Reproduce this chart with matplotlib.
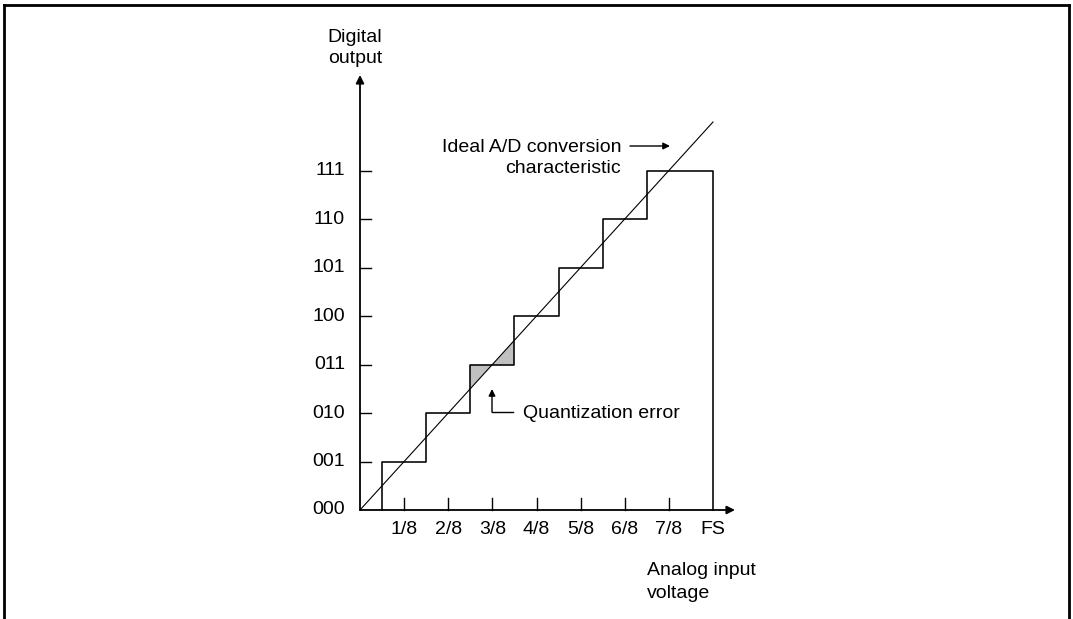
import matplotlib
matplotlib.use("Agg")
import matplotlib.pyplot as plt
from matplotlib.patches import Polygon

plt.rcParams['font.family'] = ['Liberation Sans', 'DejaVu Sans']

# ---- data ----
codes = ['000', '001', '010', '011', '100', '101', '110', '111']
code_levels = [0, 1, 2, 3, 4, 5, 6, 7]
x_tick_labels = ['1/8', '2/8', '3/8', '4/8', '5/8', '6/8', '7/8', 'FS']
x_tick_pos = [0.125, 0.25, 0.375, 0.5, 0.625, 0.75, 0.875, 1.0]
# input voltages (fraction of FS) at which the output steps up to each code
step_x = [0.0625, 0.1875, 0.3125, 0.4375, 0.5625, 0.6875, 0.8125]
step_levels = [1, 2, 3, 4, 5, 6, 7]
ideal_x = [0.0, 1.0]
ideal_y = [0.0, 8.0]
# shaded quantization error region (around code 011)
err_x = [0.3125, 0.375, 0.4375]
err_y = [2.5, 3.0, 3.5]

FS_TXT = 14

# ---- figure geometry ----
W, H = 1073, 619
fig = plt.figure(figsize=(W / 100, H / 100), dpi=100)
ax = fig.add_axes([0, 0, 1, 1])
x0px, fspx = 360.0, 353.0
y0px, lvpx = 510.0, 48.5
ax.set_xlim(-x0px / fspx, (W - x0px) / fspx)
ax.set_ylim(-(H - y0px) / lvpx, y0px / lvpx)
ax.axis('off')


def px(v):
    return v / fspx


def py(v):
    return (y0px - v) / lvpx


# frame (open at the bottom)
for xs, ys in [((0.004, 0.004), (0.0, 0.992)), ((0.004, 0.996), (0.992, 0.992)),
               ((0.996, 0.996), (0.992, 0.0))]:
    ax.plot(xs, ys, color='black', lw=2.0, transform=ax.transAxes,
            solid_capstyle='projecting')

# axes with arrows
ax.annotate('', xy=(0, py(75)), xytext=(0, 0),
            arrowprops=dict(arrowstyle='-|>', color='black', lw=1.3,
                            mutation_scale=12, shrinkA=0, shrinkB=0))
ax.annotate('', xy=(px(375), 0), xytext=(0, 0),
            arrowprops=dict(arrowstyle='-|>', color='black', lw=1.3,
                            mutation_scale=12, shrinkA=0, shrinkB=0))

# ticks
for lv in code_levels[1:]:
    ax.plot([0, px(11)], [lv, lv], color='black', lw=1.0)
for xp in x_tick_pos[:-1]:
    ax.plot([xp, xp], [0, 12 / lvpx], color='black', lw=1.0)

# tick labels
for lbl, lv in zip(codes, code_levels):
    ax.text(px(-15), lv, lbl, ha='right', va='center', fontsize=FS_TXT)
for lbl, xp in zip(x_tick_labels, x_tick_pos):
    ax.text(xp, -20 / lvpx, lbl, ha='center', va='center', fontsize=FS_TXT)

# shaded quantization error
ax.add_patch(Polygon([(err_x[0], err_y[0]), (err_x[0], err_y[1]), (err_x[1], err_y[1])],
                     closed=True, facecolor='#c0c0c0', edgecolor='none', zorder=1))
ax.add_patch(Polygon([(err_x[1], err_y[1]), (err_x[2], err_y[1]), (err_x[2], err_y[2])],
                     closed=True, facecolor='#c0c0c0', edgecolor='none', zorder=1))

# staircase transfer characteristic
sx, sy = [], []
for i, lv in enumerate(step_levels):
    prev = 0 if i == 0 else step_levels[i - 1]
    sx += [step_x[i], step_x[i]]
    sy += [prev, lv]
sx += [x_tick_pos[-1], x_tick_pos[-1]]
sy += [step_levels[-1], 0]
ax.plot(sx, sy, color='black', lw=1.15, zorder=3)

# ideal line
ax.plot(ideal_x, ideal_y, color='black', lw=0.8, zorder=3)

# axis titles
ax.text(px(-5), py(42), 'Digital', ha='center', va='baseline', fontsize=FS_TXT)
ax.text(px(-5), py(63), 'output', ha='center', va='baseline', fontsize=FS_TXT)
ax.text(px(287), py(575), 'Analog input', ha='left', va='baseline', fontsize=FS_TXT)
ax.text(px(287), py(598), 'voltage', ha='left', va='baseline', fontsize=FS_TXT)

# ideal characteristic label
ax.text(px(261), py(152), 'Ideal A/D conversion', ha='right', va='baseline', fontsize=FS_TXT)
ax.text(px(261), py(173), 'characteristic', ha='right', va='baseline', fontsize=FS_TXT)
ax.annotate('', xy=(px(310), py(146)), xytext=(px(270), py(146)),
            arrowprops=dict(arrowstyle='-|>', color='black', lw=1.0,
                            mutation_scale=10, shrinkA=0, shrinkB=0))

# quantization error label
qx = px(132)
ax.plot([qx, px(153)], [py(412), py(412)], color='black', lw=1.0)
ax.annotate('', xy=(qx, py(389)), xytext=(qx, py(412)),
            arrowprops=dict(arrowstyle='-|>', color='black', lw=1.0,
                            mutation_scale=10, shrinkA=0, shrinkB=0))
ax.text(px(163), py(413), 'Quantization error', ha='left', va='center', fontsize=FS_TXT)

fig.savefig('out.png', dpi=100)
